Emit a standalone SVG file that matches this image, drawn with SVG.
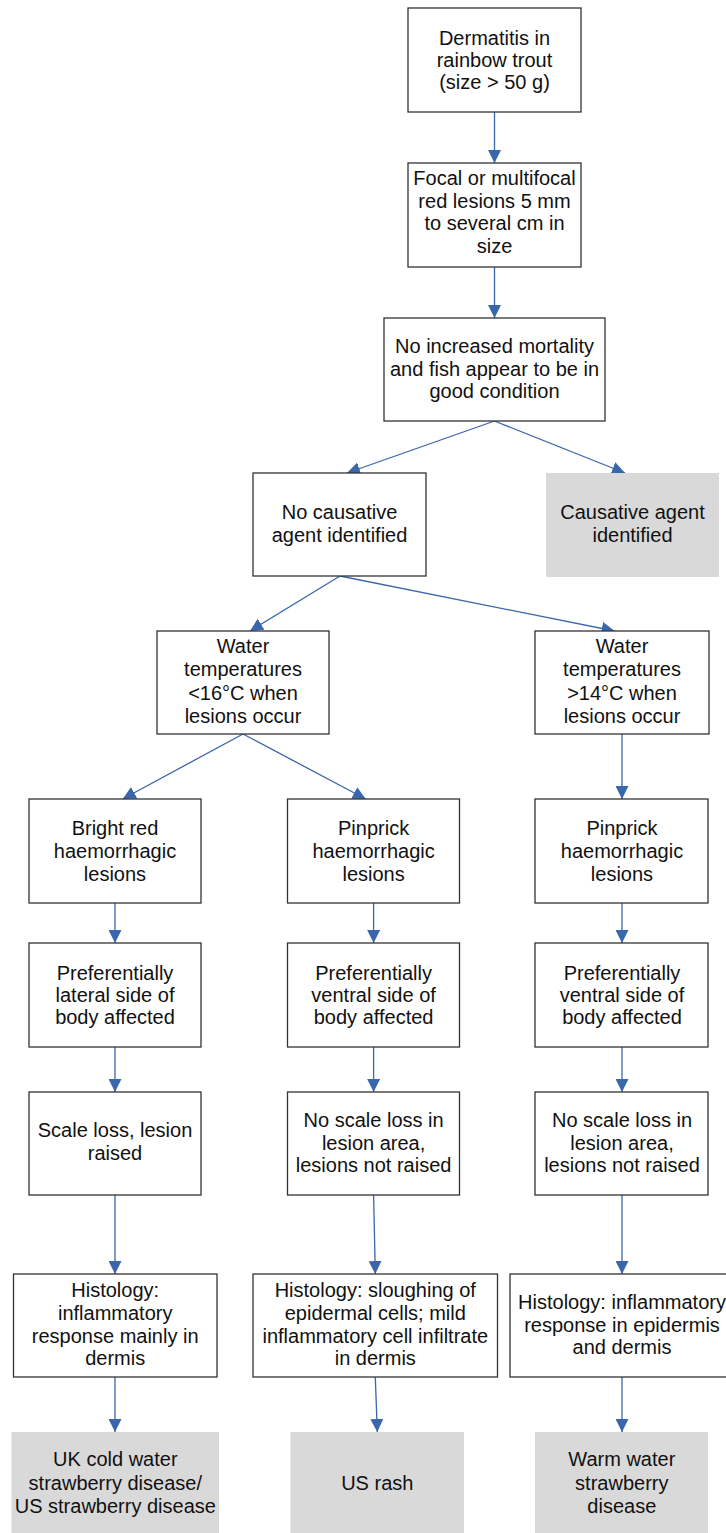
<svg xmlns="http://www.w3.org/2000/svg" width="726" height="1533" viewBox="0 0 726 1533">
<style>
.box{fill:#ffffff;stroke:#333333;stroke-width:1.3}
.grey{fill:#d9d9d9;stroke:none}
text{font-family:"Liberation Sans",Arial,sans-serif;font-size:20px;fill:#111111;text-anchor:middle}
.c{fill:none;stroke:#3a66ad;stroke-width:1.3;marker-end:url(#ah)}
</style>
<defs>
<marker id="ah" viewBox="0 0 13 13" refX="13" refY="6.5" markerWidth="13" markerHeight="13" markerUnits="userSpaceOnUse" orient="auto">
<path d="M0,0 L13,6.5 L0,13 Z" fill="#3a66ad"/>
</marker>
</defs>
<rect width="726" height="1533" fill="#ffffff"/>
<g id="connectors">
<line class="c" x1="494.5" y1="112" x2="494.5" y2="163"/>
<line class="c" x1="494.5" y1="267" x2="494.5" y2="318"/>
<line class="c" x1="494.5" y1="421" x2="347" y2="473"/>
<line class="c" x1="494.5" y1="421" x2="625" y2="473"/>
<line class="c" x1="340" y1="576" x2="250" y2="631"/>
<line class="c" x1="340" y1="576" x2="614.6" y2="631"/>
<line class="c" x1="243" y1="734" x2="122.7" y2="799"/>
<line class="c" x1="243" y1="734" x2="365.7" y2="799"/>
<line class="c" x1="622" y1="734" x2="622" y2="799"/>
<line class="c" x1="115" y1="903" x2="115" y2="943"/>
<line class="c" x1="373.6" y1="903" x2="373.6" y2="943"/>
<line class="c" x1="622" y1="903" x2="622" y2="943"/>
<line class="c" x1="115" y1="1047" x2="115" y2="1092"/>
<line class="c" x1="373.6" y1="1047" x2="373.6" y2="1092"/>
<line class="c" x1="622" y1="1047" x2="622" y2="1092"/>
<line class="c" x1="115" y1="1195" x2="115" y2="1274"/>
<line class="c" x1="373.6" y1="1195" x2="375.3" y2="1274"/>
<line class="c" x1="622" y1="1195" x2="622" y2="1274"/>
<line class="c" x1="115" y1="1377" x2="115" y2="1432"/>
<line class="c" x1="375.3" y1="1377" x2="377.3" y2="1432"/>
<line class="c" x1="622" y1="1377" x2="622" y2="1432"/>
</g>
<g id="n1">
<rect class="box" x="408" y="8" width="173" height="104"/>
<text x="494.5" y="45">Dermatitis in</text>
<text x="494.5" y="67">rainbow trout</text>
<text x="494.5" y="89">(size &gt; 50 g)</text>
</g>
<g id="n2">
<rect class="box" x="408" y="163" width="173" height="104"/>
<text x="494.5" y="185">Focal or multifocal</text>
<text x="494.5" y="207.5">red lesions 5 mm</text>
<text x="494.5" y="230">to several cm in</text>
<text x="494.5" y="252.5">size</text>
</g>
<g id="n3">
<rect class="box" x="384" y="318" width="221" height="103"/>
<text x="494.5" y="353">No increased mortality</text>
<text x="494.5" y="375.5">and fish appear to be in</text>
<text x="494.5" y="398">good condition</text>
</g>
<g id="n4">
<rect class="box" x="253" y="473" width="173" height="103"/>
<text x="339.5" y="519">No causative</text>
<text x="339.5" y="541.5">agent identified</text>
</g>
<g id="n5">
<rect class="grey" x="546" y="473" width="173" height="104"/>
<text x="632.5" y="519">Causative agent</text>
<text x="632.5" y="541.5">identified</text>
</g>
<g id="n6">
<rect class="box" x="157" y="631" width="172" height="103"/>
<text x="243" y="653">Water</text>
<text x="243" y="676">temperatures</text>
<text x="243" y="699.5">&lt;16°C when</text>
<text x="243" y="723">lesions occur</text>
</g>
<g id="n7">
<rect class="box" x="535" y="631" width="174" height="103"/>
<text x="622" y="653">Water</text>
<text x="622" y="676">temperatures</text>
<text x="622" y="699.5">&gt;14°C when</text>
<text x="622" y="723">lesions occur</text>
</g>
<g id="n8">
<rect class="box" x="29" y="799" width="172" height="104"/>
<text x="115" y="834.5">Bright red</text>
<text x="115" y="857.5">haemorrhagic</text>
<text x="115" y="880.5">lesions</text>
</g>
<g id="n9">
<rect class="box" x="287.5" y="799" width="172" height="104"/>
<text x="373.6" y="834.5">Pinprick</text>
<text x="373.6" y="857.5">haemorrhagic</text>
<text x="373.6" y="880.5">lesions</text>
</g>
<g id="n10">
<rect class="box" x="535" y="799" width="173" height="104"/>
<text x="622" y="834.5">Pinprick</text>
<text x="622" y="857.5">haemorrhagic</text>
<text x="622" y="880.5">lesions</text>
</g>
<g id="n11">
<rect class="box" x="29" y="943" width="172" height="104"/>
<text x="115" y="979.5">Preferentially</text>
<text x="115" y="1001.5">lateral side of</text>
<text x="115" y="1024">body affected</text>
</g>
<g id="n12">
<rect class="box" x="287.5" y="943" width="172" height="104"/>
<text x="373.6" y="979.5">Preferentially</text>
<text x="373.6" y="1001.5">ventral side of</text>
<text x="373.6" y="1024">body affected</text>
</g>
<g id="n13">
<rect class="box" x="535" y="943" width="173" height="104"/>
<text x="622" y="979.5">Preferentially</text>
<text x="622" y="1001.5">ventral side of</text>
<text x="622" y="1024">body affected</text>
</g>
<g id="n14">
<rect class="box" x="29" y="1092" width="172" height="103"/>
<text x="115" y="1137">Scale loss, lesion</text>
<text x="115" y="1160">raised</text>
</g>
<g id="n15">
<rect class="box" x="287.5" y="1092" width="172" height="103"/>
<text x="373.6" y="1127">No scale loss in</text>
<text x="373.6" y="1149.5">lesion area,</text>
<text x="373.6" y="1172">lesions not raised</text>
</g>
<g id="n16">
<rect class="box" x="535" y="1092" width="173" height="103"/>
<text x="622" y="1127">No scale loss in</text>
<text x="622" y="1149.5">lesion area,</text>
<text x="622" y="1172">lesions not raised</text>
</g>
<g id="n17">
<rect class="box" x="13.5" y="1274" width="203.5" height="103"/>
<text x="115.2" y="1297">Histology:</text>
<text x="115.2" y="1319.5">inflammatory</text>
<text x="115.2" y="1342.5">response mainly in</text>
<text x="115.2" y="1365">dermis</text>
</g>
<g id="n18">
<rect class="box" x="253" y="1274" width="244.5" height="103"/>
<text x="375.3" y="1297">Histology: sloughing of</text>
<text x="375.3" y="1319.5">epidermal cells; mild</text>
<text x="375.3" y="1342.5">inflammatory cell infiltrate</text>
<text x="375.3" y="1365">in dermis</text>
</g>
<g id="n19">
<rect class="box" x="510" y="1274" width="224" height="103"/>
<text x="622" y="1308.5">Histology: inflammatory</text>
<text x="622" y="1331.5">response in epidermis</text>
<text x="622" y="1354">and dermis</text>
</g>
<g id="n20">
<rect class="grey" x="11.5" y="1432" width="207.5" height="110"/>
<text x="115.3" y="1466">UK cold water</text>
<text x="115.3" y="1489.5">strawberry disease/</text>
<text x="115.3" y="1513">US strawberry disease</text>
</g>
<g id="n21">
<rect class="grey" x="290.5" y="1432" width="173.5" height="110"/>
<text x="377.3" y="1489.5">US rash</text>
</g>
<g id="n22">
<rect class="grey" x="535" y="1432" width="173" height="110"/>
<text x="621.8" y="1466">Warm water</text>
<text x="621.8" y="1489.5">strawberry</text>
<text x="621.8" y="1513">disease</text>
</g>
</svg>
